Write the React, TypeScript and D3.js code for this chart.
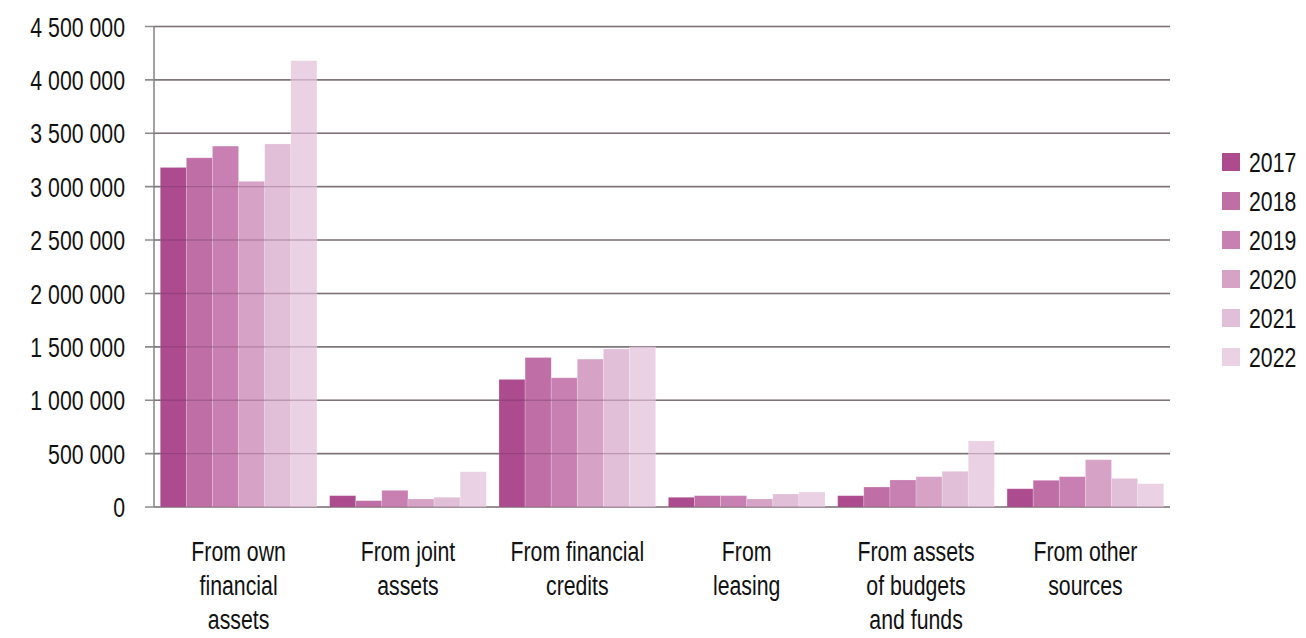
import React from 'react';
import * as d3 from 'd3';

const categories = [
  ['From own', 'financial', 'assets'],
  ['From joint', 'assets'],
  ['From financial', 'credits'],
  ['From', 'leasing'],
  ['From assets', 'of budgets', 'and funds'],
  ['From other', 'sources'],
];
const years = ['2017', '2018', '2019', '2020', '2021', '2022'];
const colors = ['#ad4b8f', '#bf6ea6', '#c880b3', '#d6a3c7', '#e2bfd8', '#ead1e3'];

// one array per year, in category order
const v2017 = [3180000, 106000, 1195000, 91000, 106000, 171000];
const v2018 = [3270000, 59000, 1400000, 106000, 187000, 250000];
const v2019 = [3380000, 156000, 1210000, 106000, 253000, 284000];
const v2020 = [3050000, 75000, 1385000, 75000, 284000, 443000];
const v2021 = [3400000, 91000, 1480000, 122000, 334000, 268000];
const v2022 = [4180000, 330000, 1500000, 140000, 618000, 218000];
const series = [v2017, v2018, v2019, v2020, v2021, v2022];

const yTicks = [0, 500000, 1000000, 1500000, 2000000, 2500000, 3000000, 3500000, 4000000, 4500000];

const W = 1306;
const H = 638;
const FONT = '"Liberation Sans", Arimo, sans-serif';
const SX = 0.76; // horizontal squeeze to mimic a condensed face

const fmt = (v: number) =>
  v === 0 ? '0' : String(v).replace(/\B(?=(\d{3})+(?!\d))/g, ' ');

// condensed text drawn at (x, y)
const CText = ({ x, y, anchor = 'start', dy = '0', children }: any) => (
  <g transform={`translate(${x},${y}) scale(${SX},1)`}>
    <text textAnchor={anchor} dy={dy} fontFamily={FONT} fontSize={28} fill="#111">
      {children}
    </text>
  </g>
);

export default function App() {
  const left = 154;
  const right = 1170;
  const top = 26.5;
  const bottom = 507;

  const x0 = d3.scaleBand<number>()
    .domain(categories.map((_, i) => i))
    .range([left, right])
    .paddingInner(0.075)
    .paddingOuter(0.037);
  const x1 = d3.scaleBand<number>()
    .domain(years.map((_, i) => i))
    .range([0, x0.bandwidth()]);
  const y = d3.scaleLinear().domain([0, 4500000]).range([bottom, top]);

  return (
    <svg width={W} height={H} style={{ position: 'fixed', left: 0, top: 0, background: '#fff' }}>
      {/* gridlines + y ticks */}
      {yTicks.map((t) => (
        <g key={t}>
          <line x1={145} x2={right} y1={y(t)} y2={y(t)} stroke="#8c8c8c" strokeWidth={1.6} />
          <CText x={125} y={y(t)} anchor="end" dy="0.36em">
            {fmt(t)}
          </CText>
        </g>
      ))}
      <line x1={left} x2={left} y1={top} y2={bottom} stroke="#8c8c8c" strokeWidth={1.6} />

      {/* bars */}
      {categories.map((_, ci) => (
        <g key={ci} transform={`translate(${x0(ci)},0)`}>
          {series.map((s, si) => (
            <rect
              key={si}
              x={x1(si)}
              y={y(s[ci])}
              width={x1.bandwidth()}
              height={bottom - y(s[ci])}
              fill={colors[si]}
              stroke="#ffffff"
              strokeOpacity={0.25}
              strokeWidth={0.8}
            />
          ))}
        </g>
      ))}

      {/* gridlines shown faintly across the bars */}
      {yTicks.map((t) => (
        <line
          key={'o' + t}
          x1={left}
          x2={right}
          y1={y(t)}
          y2={y(t)}
          stroke="#5a2a4c"
          strokeOpacity={0.28}
          strokeWidth={1.4}
        />
      ))}

      {/* category labels */}
      {categories.map((lines, ci) =>
        lines.map((l, li) => (
          <CText
            key={ci + '-' + li}
            x={(x0(ci) as number) + x0.bandwidth() / 2}
            y={561 + li * 34}
            anchor="middle"
          >
            {l}
          </CText>
        ))
      )}

      {/* legend */}
      {years.map((yr, i) => (
        <g key={yr} transform={`translate(1222,${153 + i * 39})`}>
          <rect width={18} height={18} fill={colors[i]} />
          <CText x={27} y={9} dy="0.36em">
            {yr}
          </CText>
        </g>
      ))}
    </svg>
  );
}
